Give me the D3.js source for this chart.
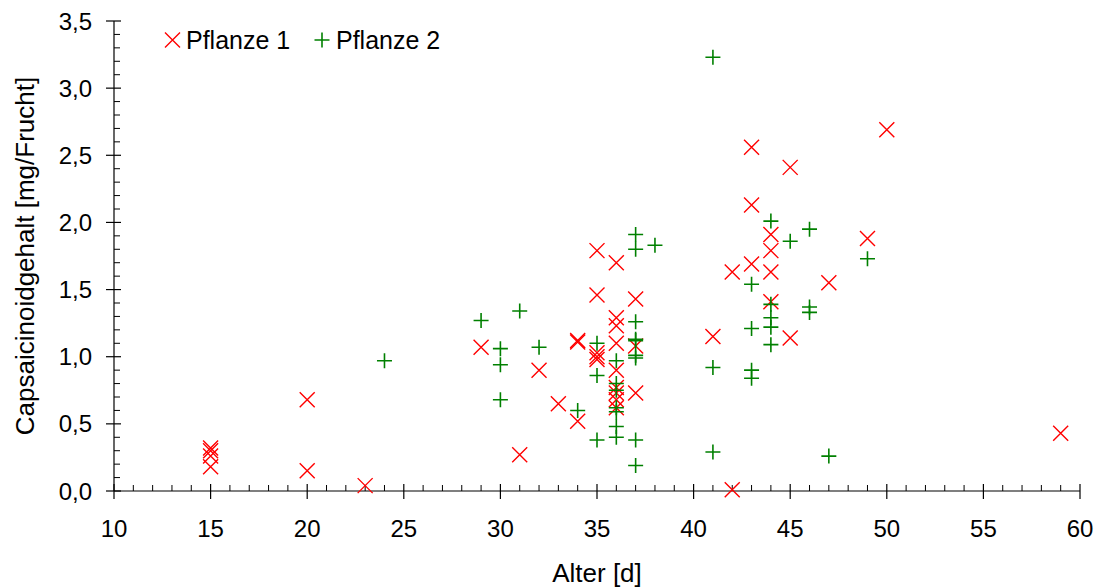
<!DOCTYPE html>
<html><head><meta charset="utf-8">
<script src="https://cdn.jsdelivr.net/npm/d3@7"></script>
<style>
html,body{margin:0;padding:0;background:#fff;}
svg text{font-family:Arial,"Liberation Sans",sans-serif;fill:#000;}
</style></head>
<body>
<svg id="chart" width="1102" height="588"></svg>
<script>
// Data
const seriesNames = ["Pflanze 1", "Pflanze 2"];
const p1Age = [15,15,15,15,20,20,23,29,31,32,33,34,34,34,35,35,35,35,35,36,36,36,36,36,36,36,36,36,37,37,37,41,42,42,43,43,43,44,44,44,44,45,45,47,49,50,59];
const p1Value = [0.32,0.30,0.26,0.18,0.68,0.15,0.04,1.07,0.27,0.90,0.65,1.12,1.11,0.52,1.79,1.46,1.03,1.00,0.98,1.70,1.29,1.23,1.10,0.90,0.77,0.73,0.68,0.62,1.43,1.08,0.73,1.15,1.63,0.01,2.56,2.13,1.69,1.91,1.79,1.63,1.41,2.41,1.14,1.55,1.88,2.69,0.43];
const p2Age = [24,29,30,30,30,31,32,34,35,35,35,36,36,36,36,36,36,36,37,37,37,37,37,37,37,37,37,38,41,41,41,43,43,43,43,44,44,44,44,44,45,46,46,46,47,49];
const p2Value = [0.97,1.27,1.06,0.94,0.68,1.34,1.07,0.60,1.10,0.86,0.38,0.97,0.80,0.75,0.62,0.59,0.48,0.40,1.91,1.80,1.26,1.13,1.12,1.01,0.99,0.38,0.19,1.83,3.23,0.92,0.29,1.54,1.21,0.90,0.84,2.01,1.39,1.29,1.22,1.09,1.86,1.95,1.37,1.33,0.26,1.73];
const xTicks = [10,15,20,25,30,35,40,45,50,55,60];
const yTicks = [0,0.5,1.0,1.5,2.0,2.5,3.0,3.5];
const xTitle = "Alter [d]";
const yTitle = "Capsaicinoidgehalt [mg/Frucht]";

const svg = d3.select("#chart");
const x = d3.scaleLinear().domain([10,60]).range([114,1080]);
const y = d3.scaleLinear().domain([0,3.5]).range([491,21]);
const fmtY = v => d3.format(".1f")(v).replace(".", ",");

// minor ticks
const xMinor = d3.range(10,61,1).filter(v => v % 5 !== 0);
const yMinor = d3.range(0,36,1).map(v => v/10).filter(v => Math.round(v*10) % 5 !== 0);

const ax = svg.append("g");
// x axis
const gx = ax.append("g").attr("transform", `translate(0,${y(0)})`);
gx.append("line").attr("x1", x(10)).attr("x2", x(60)).attr("stroke","#000").attr("stroke-width",1.2);
gx.selectAll(".mn").data(xMinor).join("line")
  .attr("x1", d=>x(d)).attr("x2", d=>x(d)).attr("y1", -6).attr("y2", 0).attr("stroke","#000").attr("stroke-width",1);
gx.selectAll(".mj").data(xTicks).join("line")
  .attr("x1", d=>x(d)).attr("x2", d=>x(d)).attr("y1", -7).attr("y2", 8).attr("stroke","#000").attr("stroke-width",1.2);
gx.selectAll("text").data(xTicks).join("text")
  .attr("x", d=>x(d)).attr("y", 46).attr("text-anchor","middle").attr("font-size",24).text(d=>d);

// y axis
const gy = ax.append("g").attr("transform", `translate(${x(10)},0)`);
gy.append("line").attr("y1", y(0)).attr("y2", y(3.5)).attr("stroke","#000").attr("stroke-width",1.2);
gy.selectAll(".mn").data(yMinor).join("line")
  .attr("y1", d=>y(d)).attr("y2", d=>y(d)).attr("x1", 0).attr("x2", 6).attr("stroke","#000").attr("stroke-width",1);
gy.selectAll(".mj").data(yTicks).join("line")
  .attr("y1", d=>y(d)).attr("y2", d=>y(d)).attr("x1", -8).attr("x2", 7).attr("stroke","#000").attr("stroke-width",1.2);
gy.selectAll("text").data(yTicks).join("text")
  .attr("x", -22).attr("y", d=>y(d)+8.5).attr("text-anchor","end").attr("font-size",24).text(fmtY);

// titles
svg.append("text").attr("x", (x(10)+x(60))/2).attr("y", 582).attr("text-anchor","middle").attr("font-size",26).text(xTitle);
svg.append("text").attr("transform", `translate(34,${(y(0)+y(3.5))/2}) rotate(-90)`).attr("text-anchor","middle").attr("font-size",26).text(yTitle);

// markers
const s = 7.5;
function cross(g, cx, cy, col){
  g.append("path").attr("d", `M${cx-s},${cy-s}L${cx+s},${cy+s}M${cx-s},${cy+s}L${cx+s},${cy-s}`)
   .attr("stroke", col).attr("stroke-width",1.4).attr("fill","none");
}
function plus(g, cx, cy, col){
  g.append("path").attr("d", `M${cx-s},${cy}L${cx+s},${cy}M${cx},${cy-s}L${cx},${cy+s}`)
   .attr("stroke", col).attr("stroke-width",1.6).attr("fill","none");
}
const red = "#ff0000", green = "#008000";
const g1 = svg.append("g");
p1Age.forEach((a,i)=>cross(g1, x(a), y(p1Value[i]), red));
const g2 = svg.append("g");
p2Age.forEach((a,i)=>plus(g2, x(a), y(p2Value[i]), green));

// legend
const lg = svg.append("g");
cross(lg, 172.5, 40, red);
lg.append("text").attr("x", 186).attr("y", 49).attr("font-size",25).text(seriesNames[0]);
plus(lg, 322, 40, green);
lg.append("text").attr("x", 336).attr("y", 49).attr("font-size",25).text(seriesNames[1]);
</script>
</body></html>
